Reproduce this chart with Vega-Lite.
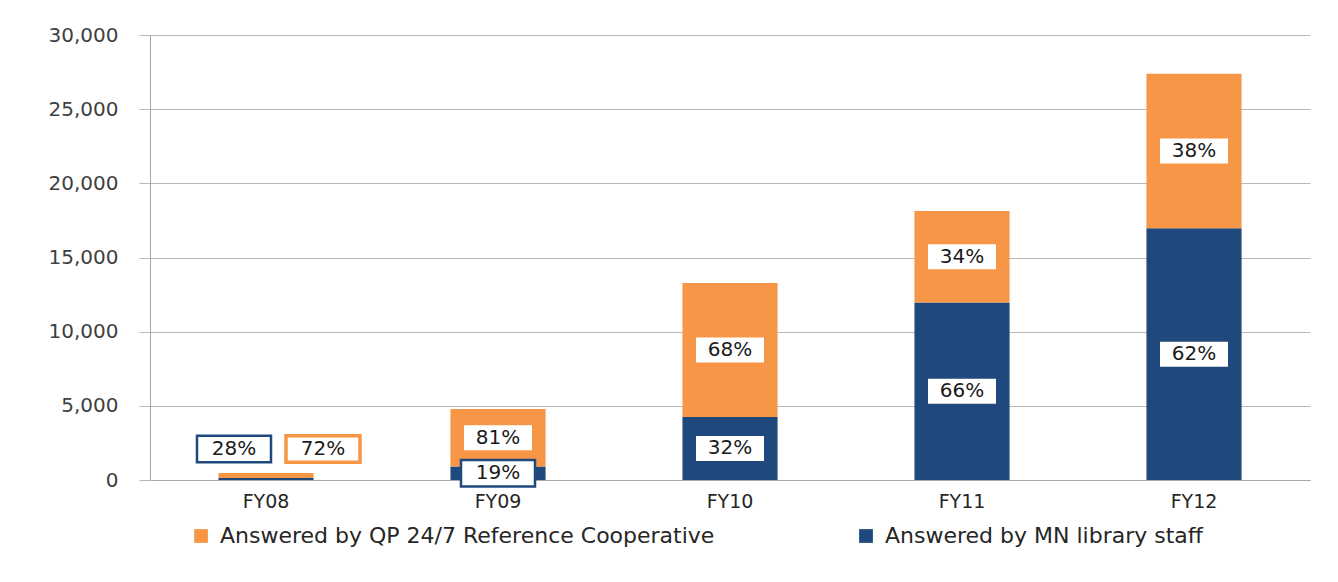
{
  "$schema": "https://vega.github.io/schema/vega-lite/v6.json",
  "autosize": {"type": "none"},
  "width": 1160,
  "height": 445,
  "padding": {"left": 150, "top": 35, "right": 28, "bottom": 102},
  "background": "white",
  "config": {
    "view": {"stroke": null},
    "font": "DejaVu Sans",
    "axis": {"labelFont": "DejaVu Sans", "labelFontSize": 19, "labelColor": "#404040", "title": null},
    "axisY": {"grid": true, "gridColor": "#B8B8B8", "tickColor": "#B8B8B8", "domainColor": "#A6A6A6", "tickSize": 11, "labelPadding": 21, "labelFontSize": 20}
  },
  "data": {
    "values": [
      {"year": "FY08", "series": "Answered by MN library staff", "value": 130, "pct": "28%"},
      {"year": "FY08", "series": "Answered by QP 24/7 Reference Cooperative", "value": 340, "pct": "72%"},
      {"year": "FY09", "series": "Answered by MN library staff", "value": 910, "pct": "19%"},
      {"year": "FY09", "series": "Answered by QP 24/7 Reference Cooperative", "value": 3880, "pct": "81%"},
      {"year": "FY10", "series": "Answered by MN library staff", "value": 4250, "pct": "32%"},
      {"year": "FY10", "series": "Answered by QP 24/7 Reference Cooperative", "value": 9030, "pct": "68%"},
      {"year": "FY11", "series": "Answered by MN library staff", "value": 11970, "pct": "66%"},
      {"year": "FY11", "series": "Answered by QP 24/7 Reference Cooperative", "value": 6170, "pct": "34%"},
      {"year": "FY12", "series": "Answered by MN library staff", "value": 16970, "pct": "62%"},
      {"year": "FY12", "series": "Answered by QP 24/7 Reference Cooperative", "value": 10410, "pct": "38%"}
    ]
  },
  "transform": [
    {"stack": "value", "groupby": ["year"], "sort": [{"field": "series", "order": "ascending"}], "as": ["v0", "v1"]},
    {"calculate": "(datum.v0 + datum.v1) / 2", "as": "mid"},
    {"joinaggregate": [{"op": "sum", "field": "value", "as": "total"}], "groupby": ["year"]}
  ],
  "encoding": {
    "x": {
      "field": "year", "type": "nominal", "sort": ["FY08", "FY09", "FY10", "FY11", "FY12"],
      "scale": {"paddingInner": 0.59, "paddingOuter": 0.295},
      "axis": {"labelAngle": 0, "ticks": false, "labelPadding": 12, "domainColor": "#A6A6A6", "labelColor": "#262626"}
    }
  },
  "layer": [
    {
      "mark": {"type": "bar"},
      "encoding": {
        "y": {
          "field": "v1", "type": "quantitative",
          "scale": {"domain": [0, 30000], "nice": false},
          "axis": {"values": [0, 5000, 10000, 15000, 20000, 25000, 30000], "format": ",d"}
        },
        "y2": {"field": "v0"},
        "color": {
          "field": "series", "type": "nominal",
          "scale": {"domain": ["Answered by QP 24/7 Reference Cooperative", "Answered by MN library staff"], "range": ["#F79646", "#1F497D"]},
          "legend": {"title": null, "orient": "none", "legendX": 40, "legendY": 490, "direction": "horizontal", "symbolType": "square", "symbolSize": 190, "symbolStrokeWidth": 0, "labelFontSize": 22, "labelFont": "DejaVu Sans", "labelColor": "#262626", "labelLimit": 800, "columnPadding": 140, "labelOffset": 8}
        }
      }
    },
    {
      "transform": [{"filter": "datum.year != 'FY08' && !(datum.year == 'FY09' && datum.series == 'Answered by MN library staff')"}],
      "mark": {"type": "point", "shape": "M-1,-0.368H1V0.368H-1Z", "size": 4624, "filled": true, "fill": "white", "strokeWidth": 0, "opacity": 1},
      "encoding": {"y": {"field": "mid", "type": "quantitative", "axis": {"values": [0, 5000, 10000, 15000, 20000, 25000, 30000], "format": ",d"}}}
    },
    {
      "transform": [{"filter": "datum.year == 'FY09' && datum.series == 'Answered by MN library staff'"}],
      "mark": {"type": "point", "shape": "M-1,-0.36H1V0.36H-1Z", "size": 5476, "filled": true, "fill": "white", "stroke": "#1F497D", "strokeWidth": 2.5, "opacity": 1},
      "encoding": {"y": {"field": "mid", "type": "quantitative", "axis": {"values": [0, 5000, 10000, 15000, 20000, 25000, 30000], "format": ",d"}}}
    },
    {
      "transform": [{"filter": "datum.year != 'FY08'"}],
      "mark": {"type": "text", "fontSize": 20, "font": "DejaVu Sans", "color": "#1A1A1A", "baseline": "middle", "align": "center"},
      "encoding": {"y": {"field": "mid", "type": "quantitative", "axis": {"values": [0, 5000, 10000, 15000, 20000, 25000, 30000], "format": ",d"}}, "text": {"field": "pct"}}
    },
    {
      "transform": [{"filter": "datum.year == 'FY08' && datum.series == 'Answered by MN library staff'"}],
      "mark": {"type": "point", "shape": "M-1,-0.36H1V0.36H-1Z", "size": 5476, "filled": true, "fill": "white", "stroke": "#1F497D", "strokeWidth": 2.5, "opacity": 1, "xOffset": -32, "yOffset": -24},
      "encoding": {"y": {"field": "total", "type": "quantitative", "axis": {"values": [0, 5000, 10000, 15000, 20000, 25000, 30000], "format": ",d"}}}
    },
    {
      "transform": [{"filter": "datum.year == 'FY08' && datum.series == 'Answered by MN library staff'"}],
      "mark": {"type": "text", "fontSize": 20, "font": "DejaVu Sans", "color": "#1A1A1A", "baseline": "middle", "align": "center", "xOffset": -32, "yOffset": -24},
      "encoding": {"y": {"field": "total", "type": "quantitative", "axis": {"values": [0, 5000, 10000, 15000, 20000, 25000, 30000], "format": ",d"}}, "text": {"field": "pct"}}
    },
    {
      "transform": [{"filter": "datum.year == 'FY08' && datum.series == 'Answered by QP 24/7 Reference Cooperative'"}],
      "mark": {"type": "point", "shape": "M-1,-0.36H1V0.36H-1Z", "size": 5476, "filled": true, "fill": "white", "stroke": "#F79646", "strokeWidth": 3.5, "opacity": 1, "xOffset": 57, "yOffset": -24},
      "encoding": {"y": {"field": "total", "type": "quantitative", "axis": {"values": [0, 5000, 10000, 15000, 20000, 25000, 30000], "format": ",d"}}}
    },
    {
      "transform": [{"filter": "datum.year == 'FY08' && datum.series == 'Answered by QP 24/7 Reference Cooperative'"}],
      "mark": {"type": "text", "fontSize": 20, "font": "DejaVu Sans", "color": "#1A1A1A", "baseline": "middle", "align": "center", "xOffset": 57, "yOffset": -24},
      "encoding": {"y": {"field": "total", "type": "quantitative", "axis": {"values": [0, 5000, 10000, 15000, 20000, 25000, 30000], "format": ",d"}}, "text": {"field": "pct"}}
    }
  ]
}
